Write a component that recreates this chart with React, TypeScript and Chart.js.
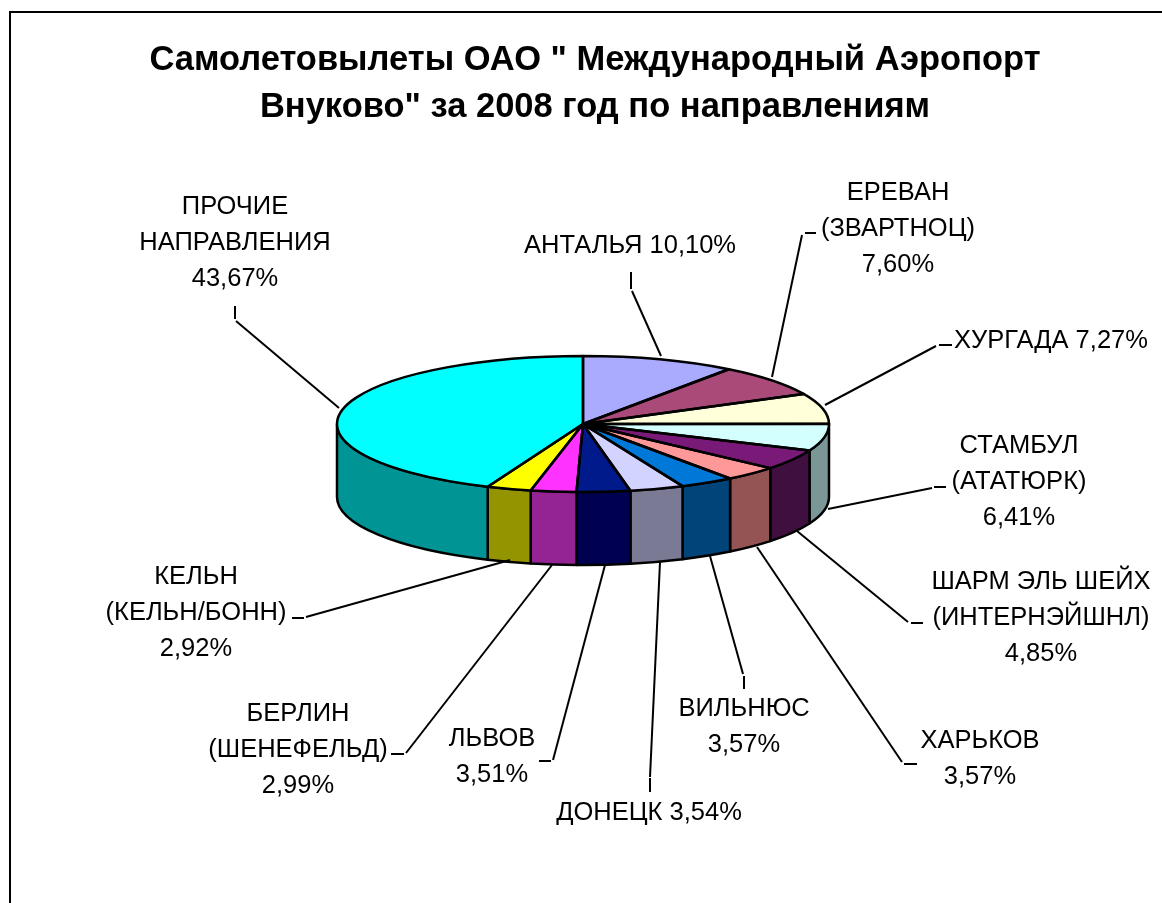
import React, { useEffect, useRef } from "react";
import { Chart, registerables } from "chart.js";

Chart.register(...registerables);

const titleLines = ['Самолетовылеты ОАО " Международный Аэропорт', 'Внуково" за 2008 год по направлениям'];
const categories = ["АНТАЛЬЯ", "ЕРЕВАН (ЗВАРТНОЦ)", "ХУРГАДА", "СТАМБУЛ (АТАТЮРК)", "ШАРМ ЭЛЬ ШЕЙХ (ИНТЕРНЭЙШНЛ)", "ХАРЬКОВ", "ВИЛЬНЮС", "ДОНЕЦК", "ЛЬВОВ", "БЕРЛИН (ШЕНЕФЕЛЬД)", "КЕЛЬН (КЕЛЬН/БОНН)", "ПРОЧИЕ НАПРАВЛЕНИЯ"];
const shares = [10.1, 7.6, 7.27, 6.41, 4.85, 3.57, 3.57, 3.54, 3.51, 2.99, 2.92, 43.67];
const topColors = ["#AAAAFF", "#A94A78", "#FFFFD9", "#D4FFFF", "#7A1A78", "#FF9999", "#0078D7", "#D3D3FF", "#001A8C", "#FF33FF", "#FFFF00", "#00FFFF"];
const sideColors = ["#6A6A9F", "#692E4B", "#9F9F87", "#7B9696", "#3F0F3F", "#945454", "#00447A", "#7A7A94", "#000050", "#942394", "#949400", "#009494"];

// label text, one entry of lines per category ("%" value line(s) are built from shares)
const labelNameLines = [["АНТАЛЬЯ"], ["ЕРЕВАН", "(ЗВАРТНОЦ)"], ["ХУРГАДА"], ["СТАМБУЛ", "(АТАТЮРК)"], ["ШАРМ ЭЛЬ ШЕЙХ", "(ИНТЕРНЭЙШНЛ)"], ["ХАРЬКОВ"], ["ВИЛЬНЮС"], ["ДОНЕЦК"], ["ЛЬВОВ"], ["БЕРЛИН", "(ШЕНЕФЕЛЬД)"], ["КЕЛЬН", "(КЕЛЬН/БОНН)"], ["ПРОЧИЕ", "НАПРАВЛЕНИЯ"]];
const inlineValue = [true, false, true, false, false, false, false, true, false, false, false, false];

// layout only
const PIE = { cx: 583, cy: 424, rx: 246, ry: 68, depth: 73 };
const labelCx = [630, 898, 1051, 1019, 1041, 980, 744, 649, 492, 298, 196, 235];
const labelY0 = [246, 193, 341, 446, 582, 741, 709, 813, 739, 714, 577, 207];
const stubs = [[631, 272, 631, 289], [805, 233, 816, 233], [939, 345, 952, 345], [934, 487, 946, 487], [911, 623, 923, 623], [904, 764, 917, 764], [744, 676, 744, 689], [650, 778, 650, 792], [539, 761, 551, 761], [391, 754, 404, 754], [292, 618, 304, 618], [235, 306, 235, 319]];
const leaders = [[632, 291, 661, 356], [802, 235, 772, 377], [936, 346, 825, 405], [932, 488, 828, 509], [908, 622, 797, 531], [902, 762, 757, 547], [743, 674, 710, 556], [650, 777, 660, 562], [553, 760, 605, 565], [406, 753, 552, 565], [306, 617, 510, 560], [236, 321, 339, 408]];

const fmt = (v: number) => v.toFixed(2).replace(".", ",") + "%";

const pie3d = {
  id: "pie3d",
  beforeDraw(chart: any) {
    const { ctx } = chart;
    ctx.save();
    ctx.strokeStyle = "#000";
    ctx.lineWidth = 2;
    ctx.beginPath();
    ctx.moveTo(10, 903);
    ctx.lineTo(10, 12);
    ctx.lineTo(1162, 12);
    ctx.stroke();
    ctx.restore();
  },
  beforeDatasetsDraw(chart: any) {
    const { ctx } = chart;
    const arcs = chart.getDatasetMeta(0).data;
    const { cx, cy, rx, ry, depth } = PIE;
    ctx.save();
    ctx.strokeStyle = "#000";
    ctx.lineWidth = 2.5;
    ctx.lineJoin = "round";
    arcs.forEach((arc: any, i: number) => {
      const a = Math.max(arc.startAngle, 0);
      const b = Math.min(arc.endAngle, Math.PI);
      if (b <= a) return;
      ctx.beginPath();
      ctx.ellipse(cx, cy, rx, ry, 0, a, b);
      ctx.ellipse(cx, cy + depth, rx, ry, 0, b, a, true);
      ctx.closePath();
      ctx.fillStyle = sideColors[i];
      ctx.fill();
      ctx.stroke();
    });
    ctx.restore();
    const first = arcs[0];
    ctx.save();
    ctx.translate(cx, cy);
    ctx.scale(rx / first.outerRadius, ry / first.outerRadius);
    ctx.translate(-first.x, -first.y);
  },
  afterDatasetsDraw(chart: any) {
    const { ctx } = chart;
    ctx.restore();
    const arcs = chart.getDatasetMeta(0).data;
    const { cx, cy, rx, ry } = PIE;
    ctx.save();
    ctx.strokeStyle = "#000";
    ctx.lineWidth = 2.5;
    ctx.lineJoin = "round";
    arcs.forEach((arc: any) => {
      ctx.beginPath();
      ctx.moveTo(cx, cy);
      ctx.ellipse(cx, cy, rx, ry, 0, arc.startAngle, arc.endAngle);
      ctx.closePath();
      ctx.stroke();
    });
    ctx.lineWidth = 2;
    [...stubs, ...leaders].forEach(([x1, y1, x2, y2]) => {
      ctx.beginPath();
      ctx.moveTo(x1, y1);
      ctx.lineTo(x2, y2);
      ctx.stroke();
    });
    ctx.fillStyle = "#000";
    ctx.font = '25.5px "Liberation Sans"';
    ctx.textAlign = "center";
    ctx.textBaseline = "middle";
    categories.forEach((_, i) => {
      const lines = inlineValue[i]
        ? [labelNameLines[i][0] + " " + fmt(shares[i])]
        : [...labelNameLines[i], fmt(shares[i])];
      lines.forEach((t, k) => ctx.fillText(t, labelCx[i], labelY0[i] + k * 36));
    });
    ctx.restore();
  },
};

export default function App() {
  const ref = useRef<HTMLCanvasElement>(null);
  useEffect(() => {
    const chart = new Chart(ref.current!, {
      type: "pie",
      data: {
        labels: categories,
        datasets: [{ data: shares, backgroundColor: topColors, borderWidth: 0, clip: false } as any],
      },
      options: {
        animation: false,
        responsive: false,
        layout: { padding: { left: 28 } },
        plugins: {
          legend: { display: false },
          tooltip: { enabled: false },
          title: {
            display: true,
            text: titleLines,
            color: "#000",
            font: { family: '"Liberation Sans"', size: 34.5, weight: "bold", lineHeight: 1.362 },
            padding: { top: 37, bottom: 20 },
          },
        },
      },
      plugins: [pie3d],
    } as any);
    return () => chart.destroy();
  }, []);
  return (
    <canvas
      ref={ref}
      width={1162}
      height={903}
      style={{ position: "absolute", left: 0, top: 0, display: "block", background: "#fff" }}
    />
  );
}
